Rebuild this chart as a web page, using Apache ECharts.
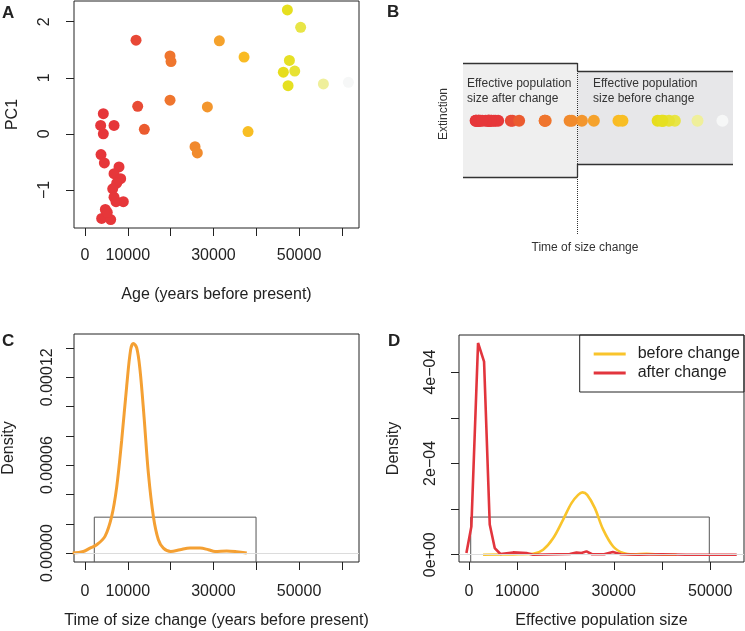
<!DOCTYPE html>
<html><head><meta charset="utf-8">
<script src="https://cdn.jsdelivr.net/npm/echarts@6/dist/echarts.min.js"></script>
<style>html,body{margin:0;padding:0;background:#fff}#c{width:745px;height:631px}</style>
</head><body><div id="c"></div>
<script>
// ---------- DATA ----------
// Panel A / B: sample ages (years before present) and PC1 scores
const ages = [47270, 50370, 11920, 31380, 19860, 20090, 37150, 47740, 46330, 48990,
  47430, 55680, 61520, 12310, 19860, 28580, 13860, 38080, 25700, 26240,
  4280, 3660, 4280, 6780, 3740, 4520, 7940, 6780, 8330, 7400,
  6470, 6780, 8950, 7240, 4750, 3890, 6000, 5200];
const pc1 = [2.21, 1.90, 1.67, 1.66, 1.39, 1.29, 1.37, 1.31, 1.10, 1.12,
  0.86, 0.89, 0.92, 0.49, 0.60, 0.48, 0.08, 0.04, -0.23, -0.34,
  0.36, 0.15, 0.00, 0.15, -0.37, -0.52, -0.59, -0.71, -0.80, -0.88,
  -0.98, -1.13, -1.21, -1.21, -1.35, -1.51, -1.53, -1.40];
// Panel C: density of time of size change
const cTimeX = [-2880, -386, 1168, 2725, 4670, 6230, 7400, 8570, 9740, 10670, 11290, 12080, 12850,
  13790, 14800, 15970, 17140, 18310, 20020, 22200, 24540, 26870, 28820, 30380, 33100, 35440, 37780];
const cTimeY = [0, 1.1e-6, 3.4e-6, 5.7e-6, 1.14e-5, 2.5e-5, 4.5e-5, 7.7e-5, 1.14e-4, 1.39e-4, 1.43e-4, 1.40e-4, 1.25e-4,
  9.3e-5, 5.45e-5, 2.5e-5, 9.1e-6, 3.4e-6, 1.1e-6, 2.3e-6, 3.4e-6, 3.4e-6, 2.3e-6, 1.1e-6, 1.4e-6, 9e-7, 0];
const priorC = [2170, 39950, 2.45e-5];   // uniform prior: lower, upper, density
// Panel D: density of effective population size
const dBeforeX = [2912, 9130, 13280, 15360, 17430, 19510, 21240, 22620, 23520, 24490, 26080, 27810, 29880,
  31960, 34030, 36810, 40260, 43030];
const dBeforeY = [0, 7e-7, 2e-6, 1.1e-5, 3.6e-5, 7.7e-5, 1.13e-4, 1.31e-4, 1.365e-4, 1.31e-4, 1.02e-4, 5.5e-5, 1.8e-5,
  3.6e-6, 7e-7, 2e-6, 0, 0];
const dAfterX = [-540, 491, 1875, 3120, 4296, 5333, 6509, 9130, 11910, 13280, 20890, 22270, 23300, 24340,
  25500, 28000, 29800, 31500, 35000, 40000, 45000, 55480];
const dAfterY = [3.6e-6, 6.2e-5, 4.64e-4, 4.23e-4, 6.6e-5, 1.46e-5, 1.5e-6, 5e-6, 3.6e-6, 0, 1.5e-6, 5e-6, 3.6e-6, 7.3e-6,
  1e-6, 1e-6, 5.8e-6, 1e-6, 0, 1e-6, 0, 0];
const priorD = [353, 49800, 8.25e-5];
// Tick values / labels
const ageTicks = [0, 10000, 20000, 30000, 40000, 50000, 60000];
const ageLabels = [0, 10000, 30000, 50000];
const pc1Ticks = [-1, 0, 1, 2];
const cTicks = [0, 0.00002, 0.00004, 0.00006, 0.00008, 0.0001, 0.00012, 0.00014];
const cLabels = [0, 0.00006, 0.00012];
const dTicks = [0, 1e-4, 2e-4, 3e-4, 4e-4];
const dLabels = [0, 2e-4, 4e-4];
const legendNames = ['before change', 'after change'];

// ---------- STYLE ----------
const FONT = '"Liberation Sans", Arial, Helvetica, sans-serif';
const INK = '#222';
const colorStops = [[0,[230,54,58]],[9000,[230,55,58]],[12000,[232,72,54]],[14000,[235,92,47]],
  [20000,[239,118,46]],[26000,[241,138,45]],[28500,[243,150,45]],[31400,[245,162,44]],
  [37500,[249,188,36]],[47000,[230,223,28]],[50000,[232,228,64]],[55700,[239,239,155]],[61500,[246,247,247]]];
function ageColor(a){
  for (let i=1;i<colorStops.length;i++){
    if (a<=colorStops[i][0]){
      const [a0,c0]=colorStops[i-1],[a1,c1]=colorStops[i];
      const t=(a-a0)/(a1-a0);
      const c=c0.map((v,k)=>Math.round(v+(c1[k]-v)*t));
      return 'rgb('+c.join(',')+')';
    }
  }
  return 'rgb('+colorStops[colorStops.length-1][1].join(',')+')';
}
// schematic layout of panel B (axis units: x = years, y = px offset)
const SB = {left:703, change:27550, right:64000, lTop:8, lBot:122, rTop:16, rBot:109, row:65.7, dotEnd:180};

const minus = s => String(s).replace('-', '\u2212');
function sci(v){ if (v===0) return '0e+00'; const e=Math.floor(Math.log10(v)+1e-9); const m=Math.round(v/Math.pow(10,e)); return m+'e\u22120'+(-e); }

function xAx(gi, min, max, name, nameGap, margin){
  return {type:'value', gridIndex:gi, min, max, splitLine:{show:false}, axisLine:{show:false, onZero:false},
    axisTick:{show:true, length:8, lineStyle:{color:INK}, customValues:ageTicks},
    axisLabel:{show:true, margin, color:INK, fontSize:16, fontFamily:FONT, customValues:ageLabels, formatter:v=>String(v)},
    name, nameLocation:'middle', nameGap, nameTextStyle:{color:INK, fontSize:16, fontFamily:FONT}};
}
function yAx(gi, min, max, ticks, labels, fmt, name, nameGap, margin){
  return {type:'value', gridIndex:gi, min, max, splitLine:{show:false}, axisLine:{show:false, onZero:false},
    axisTick:{show:true, length:8, lineStyle:{color:INK}, customValues:ticks},
    axisLabel:{show:true, rotate:90, margin, color:INK, fontSize:16, fontFamily:FONT, customValues:labels, formatter:fmt},
    name, nameLocation:'middle', nameGap, nameRotate:90, nameTextStyle:{color:INK, fontSize:16, fontFamily:FONT}};
}
const gridBox = {show:true, borderColor:INK, borderWidth:1, backgroundColor:'transparent'};
const zeroLine = {silent:true, symbol:['none','none'], label:{show:false}, lineStyle:{color:'#dcdcdc', width:1, type:'solid'}, data:[{yAxis:0}]};
const zip = (xs, ys) => xs.map((x,i)=>[x, ys[i]]);

const chart = echarts.init(document.getElementById('c'), null, {renderer:'canvas'});
const letter = (t, l, tp) => ({text:t, left:l, top:tp, padding:0, textStyle:{fontSize:17, fontWeight:'bold', color:INK, fontFamily:FONT}});

const cYmin = -6.1e-6, dYmin = -1.6e-5;
const bLine = (x1,y1,x2,y2,extra) => [Object.assign({coord:[x1,y1]}, extra||{}), {coord:[x2,y2]}];

chart.setOption({
  animation:false,
  backgroundColor:'#fff',
  title:[letter('A',2,5), letter('B',387,4), letter('C',2,333), letter('D',388,333)],
  grid:[
    Object.assign({left:74, top:1, width:285, height:227}, gridBox),
    {left:460, top:55, width:273, height:190, show:false},
    Object.assign({left:74, top:334, width:285, height:228}, gridBox),
    Object.assign({left:459, top:335, width:285, height:227}, gridBox)
  ],
  xAxis:[
    xAx(0, -2570, 64000, 'Age (years before present)', 59, 20),
    {type:'value', gridIndex:1, min:0, max:64000, show:false},
    xAx(2, -2570, 64000, 'Time of size change (years before present)', 51, 22),
    xAx(3, -2075, 56990, 'Effective population size', 51, 22)
  ],
  yAxis:[
    yAx(0, -1.68, 2.37, pc1Ticks, pc1Ticks, v=>minus(v), 'PC1', 53, 21),
    {type:'value', gridIndex:1, min:0, max:190, inverse:true, show:false},
    yAx(2, cYmin, 1.495e-4, cTicks, cLabels, v=>v.toFixed(5), 'Density', 57, 18),
    yAx(3, dYmin, 4.814e-4, dTicks, dLabels, sci, 'Density', 57, 20)
  ],
  legend:{
    data:legendNames, orient:'vertical', right:1, top:335, padding:[11,4,11,14], itemGap:3,
    itemWidth:32, itemHeight:3, icon:'rect', borderColor:INK, borderWidth:1,
    textStyle:{fontSize:16, color:INK, fontFamily:FONT, padding:[0,0,0,7]}
  },
  graphic:[
    {type:'text', z:100, x:467, y:75.8, style:{text:'Effective population\nsize after change', fontSize:12, lineHeight:15, fill:'#333', fontFamily:FONT, verticalAlign:'top'}},
    {type:'text', z:100, x:593, y:75.8, style:{text:'Effective population\nsize before change', fontSize:12, lineHeight:15, fill:'#333', fontFamily:FONT, verticalAlign:'top'}},
    {type:'text', z:100, x:444, y:114, rotation:Math.PI/2, style:{text:'Extinction', fontSize:12, fill:'#333', fontFamily:FONT, align:'center', verticalAlign:'middle'}},
    {type:'text', z:100, x:585, y:247.3, style:{text:'Time of size change', fontSize:12, fill:'#333', fontFamily:FONT, align:'center', verticalAlign:'middle'}}
  ],
  series:[
    {type:'scatter', xAxisIndex:0, yAxisIndex:0, symbolSize:11, data:zip(ages, pc1),
      itemStyle:{color:p=>ageColor(p.value[0]), opacity:1}},
    {type:'scatter', xAxisIndex:1, yAxisIndex:1, symbolSize:12, data:ages.map(a=>[a, SB.row]),
      itemStyle:{color:p=>ageColor(p.value[0]), opacity:1}, z:5,
      markArea:{silent:true, label:{show:false}, data:[
        [{xAxis:SB.left, yAxis:SB.lTop, itemStyle:{color:'#efefef'}}, {xAxis:SB.change, yAxis:SB.lBot}],
        [{xAxis:SB.change, yAxis:SB.rTop, itemStyle:{color:'#e7e7e9'}}, {xAxis:SB.right, yAxis:SB.rBot}]
      ]},
      markLine:{silent:true, symbol:['none','none'], label:{show:false}, lineStyle:{color:'#333', width:1.3, type:'solid'}, data:[
        bLine(SB.left, SB.lTop, SB.change, SB.lTop),
        bLine(SB.left, SB.lBot, SB.change, SB.lBot),
        bLine(SB.change, SB.rTop, SB.right, SB.rTop),
        bLine(SB.change, SB.rBot, SB.right, SB.rBot),
        bLine(SB.change, SB.lTop, SB.change, SB.rTop),
        bLine(SB.change, SB.rBot, SB.change, SB.lBot),
        bLine(SB.change, SB.lTop, SB.change, SB.dotEnd, {lineStyle:{type:'dotted', width:1, color:'#333'}})
      ]}
    },
    {type:'line', xAxisIndex:2, yAxisIndex:2, symbol:'none', silent:true,
      data:[[priorC[0], cYmin],[priorC[0], priorC[2]],[priorC[1], priorC[2]],[priorC[1], cYmin]],
      lineStyle:{color:'#555', width:1}, markLine:zeroLine},
    {type:'line', xAxisIndex:2, yAxisIndex:2, symbol:'none', smooth:0.35, data:zip(cTimeX, cTimeY),
      lineStyle:{color:'#F4A033', width:3}, itemStyle:{color:'#F4A033'}},
    {type:'line', xAxisIndex:3, yAxisIndex:3, symbol:'none', silent:true,
      data:[[priorD[0], dYmin],[priorD[0], priorD[2]],[priorD[1], priorD[2]],[priorD[1], dYmin]],
      lineStyle:{color:'#555', width:1}, markLine:zeroLine},
    {type:'line', name:legendNames[0], xAxisIndex:3, yAxisIndex:3, symbol:'none', smooth:0.35, data:zip(dBeforeX, dBeforeY),
      lineStyle:{color:'#F9C42B', width:2.6}, itemStyle:{color:'#F9C42B'}},
    {type:'line', name:legendNames[1], xAxisIndex:3, yAxisIndex:3, symbol:'none', data:zip(dAfterX, dAfterY),
      lineStyle:{color:'#E2353D', width:2.6}, itemStyle:{color:'#E2353D'}}
  ]
});
</script>
</body></html>
